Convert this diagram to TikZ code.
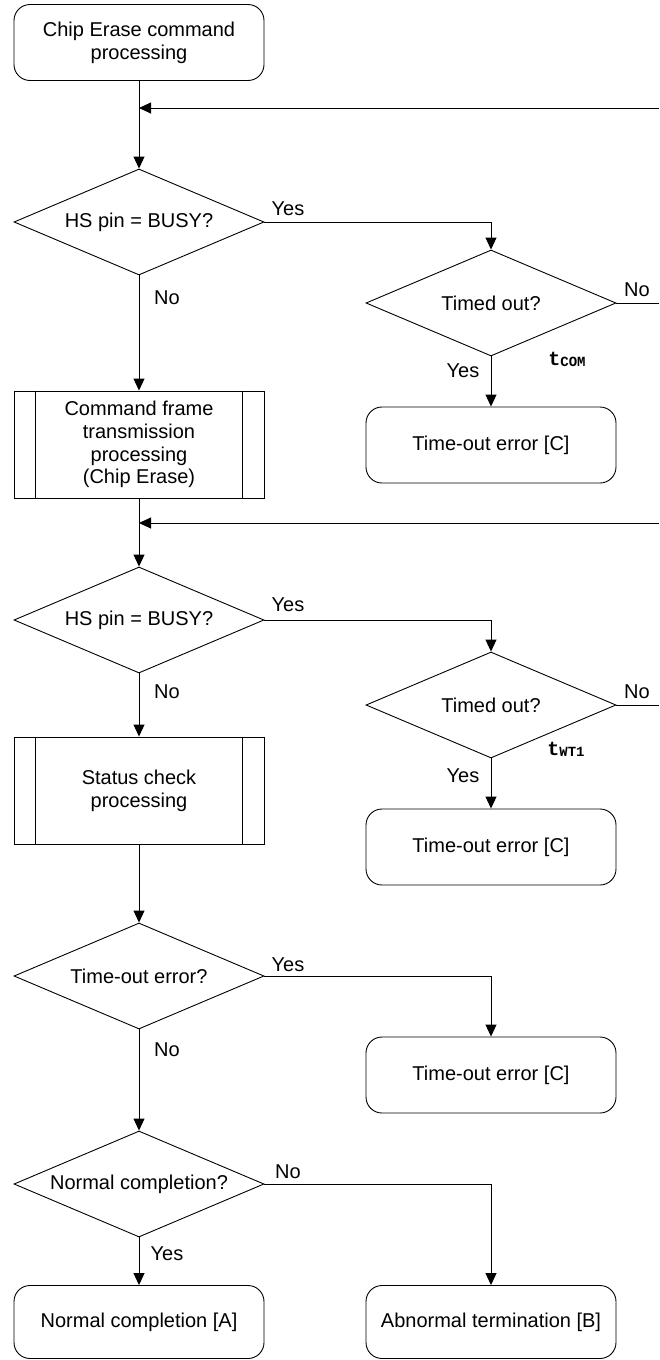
\documentclass[tikz,border=0pt]{standalone}
\usepackage{fontspec}
\setmainfont{Liberation Sans}
\newfontfamily\monofont{Liberation Mono}
\usetikzlibrary{shapes.geometric,arrows.meta}
\begin{document}
\begin{tikzpicture}[x=1pt,y=-1pt,
  every node/.style={font=\fontsize{20}{22.8}\selectfont},
  line/.style={draw=black,line width=0.9pt},
  arr/.style={line,-{Triangle[length=12pt,width=11pt]}},
  term/.style={line,rectangle,rounded corners=16pt,minimum width=250pt,minimum height=76pt,align=center,inner sep=0pt},
  sub/.style={line,rectangle,minimum width=250pt,minimum height=107pt,align=center,inner sep=0pt},
  dec/.style={line,diamond,aspect=2.36,minimum width=250pt,minimum height=106pt,inner sep=0pt},
  lbl/.style={inner sep=0pt},
  tlbl/.style={inner sep=0pt,font=\monofont\bfseries\fontsize{20}{20}\selectfont}]
\useasboundingbox (0,0) rectangle (659,1360);

% left column
\node[term] (start) at (139,42.5) {Chip Erase command\\processing};
\node[dec] (d1) at (139,222) {HS pin = BUSY?};
\node[sub] (b1) at (139,444.5) {Command frame\\transmission\\processing\\(Chip Erase)};
\node[dec] (d2) at (139,620) {HS pin = BUSY?};
\node[sub] (b2) at (139,790.5) {Status check\\processing};
\node[dec] (d3) at (139,976) {Time-out error?};
\node[dec] (d4) at (139,1184) {Normal completion?};
\node[term,minimum height=73pt] (na) at (139,1322) {Normal completion [A]};

% right column
\node[dec] (t1) at (491,303) {Timed out?};
\node[term] (c1) at (491,445) {Time-out error [C]};
\node[dec] (t2) at (491,705) {Timed out?};
\node[term] (c2) at (491,847) {Time-out error [C]};
\node[term] (c3) at (491,1075) {Time-out error [C]};
\node[term,minimum height=73pt] (nb) at (491,1322) {Abnormal termination [B]};

% subprocess side bars
\foreach \b in {b1,b2}{
  \draw[line] ([xshift=22pt]\b.north west) -- ([xshift=22pt]\b.south west);
  \draw[line] ([xshift=-22pt]\b.north east) -- ([xshift=-22pt]\b.south east);
}

% loop-back coordinates
\coordinate (r1) at (659,108);
\coordinate (j1) at (139,108);
\coordinate (r2) at (659,523);
\coordinate (j2) at (139,523);
\coordinate (e1) at (659,303);
\coordinate (e2) at (659,705);

% connectors
\draw[arr] (start) -- (d1);
\draw[arr] (r1) -- (j1);
\draw[arr] (d1.east) -| (t1.north);
\draw[arr] (d1) -- (b1);
\draw[line] (t1.east) -- (e1);
\draw[arr] (t1) -- (c1);

\draw[arr] (b1) -- (d2);
\draw[arr] (r2) -- (j2);
\draw[arr] (d2.east) -| (t2.north);
\draw[arr] (d2) -- (b2);
\draw[line] (t2.east) -- (e2);
\draw[arr] (t2) -- (c2);

\draw[arr] (b2) -- (d3);
\draw[arr] (d3.east) -| (c3.north);
\draw[arr] (d3) -- (d4);
\draw[arr] (d4.east) -| (nb.north);
\draw[arr] (d4) -- (na);

% labels
\node[lbl] (y1) at (288,209) {Yes};
\node[lbl] (n1) at (167,298) {No};
\node[lbl] (n2) at (637,290) {No};
\node[tlbl] (tc) at (567,359) {t\raisebox{-1pt}{\fontsize{14}{14}\selectfont COM}};
\node[lbl] (y2) at (463,371) {Yes};

\node[lbl] (y3) at (288,605) {Yes};
\node[lbl] (n3) at (167,692) {No};
\node[lbl] (n4) at (637,692) {No};
\node[tlbl] (tw) at (566,749) {t\raisebox{-1pt}{\fontsize{14}{14}\selectfont WT1}};
\node[lbl] (y4) at (463,776) {Yes};

\node[lbl] (y5) at (288,965) {Yes};
\node[lbl] (n5) at (167,1050) {No};
\node[lbl] (n6) at (288,1172) {No};
\node[lbl] (y6) at (167,1254) {Yes};
\end{tikzpicture}
\end{document}
